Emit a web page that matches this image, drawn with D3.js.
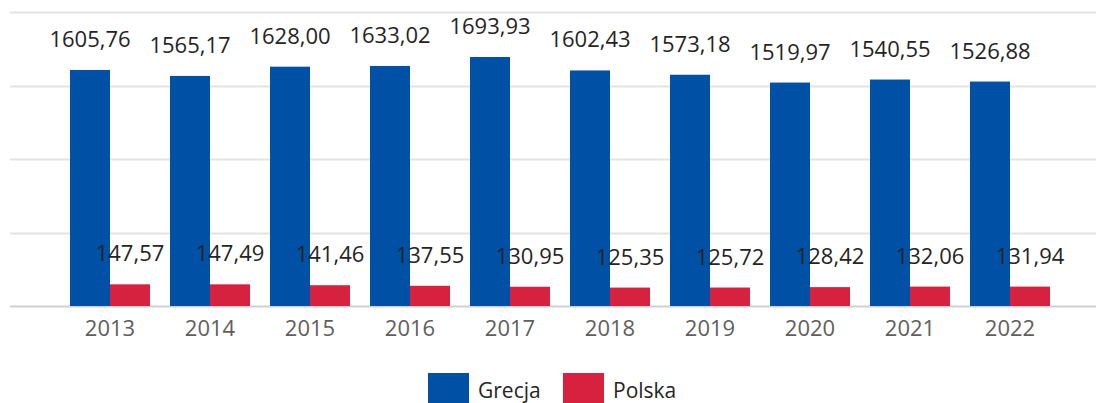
<!DOCTYPE html>
<html>
<head>
<meta charset="utf-8">
<script src="https://cdn.jsdelivr.net/npm/d3@7"></script>
<style>
  html, body { margin: 0; padding: 0; background: #fff; }
  svg { display: block; font-family: "Open Sans", sans-serif; }
</style>
</head>
<body>
<svg id="chart"></svg>
<script>
// data
var years = ["2013", "2014", "2015", "2016", "2017", "2018", "2019", "2020", "2021", "2022"];
var grecja = [1605.76, 1565.17, 1628.00, 1633.02, 1693.93, 1602.43, 1573.18, 1519.97, 1540.55, 1526.88];
var polska = [147.57, 147.49, 141.46, 137.55, 130.95, 125.35, 125.72, 128.42, 132.06, 131.94];
var seriesNames = ["Grecja", "Polska"];
var yTicks = [0, 500, 1000, 1500, 2000];

var svgWidth = 1096, svgHeight = 403;
var colors = { Grecja: "#0051a5", Polska: "#d6223f" };

var svg = d3.select("#chart")
    .attr("width", svgWidth)
    .attr("height", svgHeight);

var x = d3.scaleBand()
    .domain(years)
    .range([60, 1060])
    .paddingInner(0.2)
    .paddingOuter(0.1);

var xs = d3.scaleBand()
    .domain(seriesNames)
    .range([0, x.bandwidth()]);

var y = d3.scaleLinear()
    .domain([0, 2000])
    .range([306, 12]);

var fmt = function (v) { return d3.format(".2f")(v).replace(".", ","); };

// gridlines
svg.append("g")
    .selectAll("line")
    .data(yTicks)
    .join("line")
    .attr("x1", 10)
    .attr("x2", svgWidth)
    .attr("y1", d => Math.round(y(d)) + 0.5)
    .attr("y2", d => Math.round(y(d)) + 0.5)
    .attr("stroke", d => d === 0 ? "#d0d0d0" : "#e3e3e3")
    .attr("stroke-width", 2);

var rows = years.map((yr, i) => ({ year: yr, Grecja: grecja[i], Polska: polska[i] }));

var groups = svg.append("g")
    .selectAll("g")
    .data(rows)
    .join("g")
    .attr("transform", d => "translate(" + x(d.year) + ",0)");

groups.selectAll("rect")
    .data(d => seriesNames.map(s => ({ key: s, value: d[s] })))
    .join("rect")
    .attr("x", d => xs(d.key))
    .attr("width", xs.bandwidth())
    .attr("y", d => y(d.value))
    .attr("height", d => y(0) - y(d.value))
    .attr("fill", d => colors[d.key]);

groups.selectAll("text")
    .data(d => seriesNames.map(s => ({ key: s, value: d[s] })))
    .join("text")
    .attr("x", d => xs(d.key) + xs.bandwidth() / 2)
    .attr("y", d => y(d.value) - 23)
    .attr("text-anchor", "middle")
    .attr("font-size", 22)
    .attr("fill", "#252423")
    .text(d => fmt(d.value));

// x axis
var xAxis = svg.append("g")
    .attr("transform", "translate(0," + y(0) + ")")
    .call(d3.axisBottom(x).tickSize(0).tickPadding(14));
xAxis.select(".domain").remove();
xAxis.selectAll("text")
    .attr("font-size", 22)
    .attr("font-family", "Open Sans, sans-serif")
    .attr("fill", "#605e5c");

// legend
var legend = svg.append("g");
var legendItems = [
    { name: "Grecja", x: 428 },
    { name: "Polska", x: 563 }
];
var li = legend.selectAll("g")
    .data(legendItems)
    .join("g")
    .attr("transform", d => "translate(" + d.x + ",373)");
li.append("rect")
    .attr("width", 41)
    .attr("height", 30)
    .attr("fill", d => colors[d.name]);
li.append("text")
    .attr("x", 50)
    .attr("y", 25)
    .attr("font-size", 21)
    .attr("fill", "#252423")
    .text(d => d.name);
</script>
</body>
</html>
